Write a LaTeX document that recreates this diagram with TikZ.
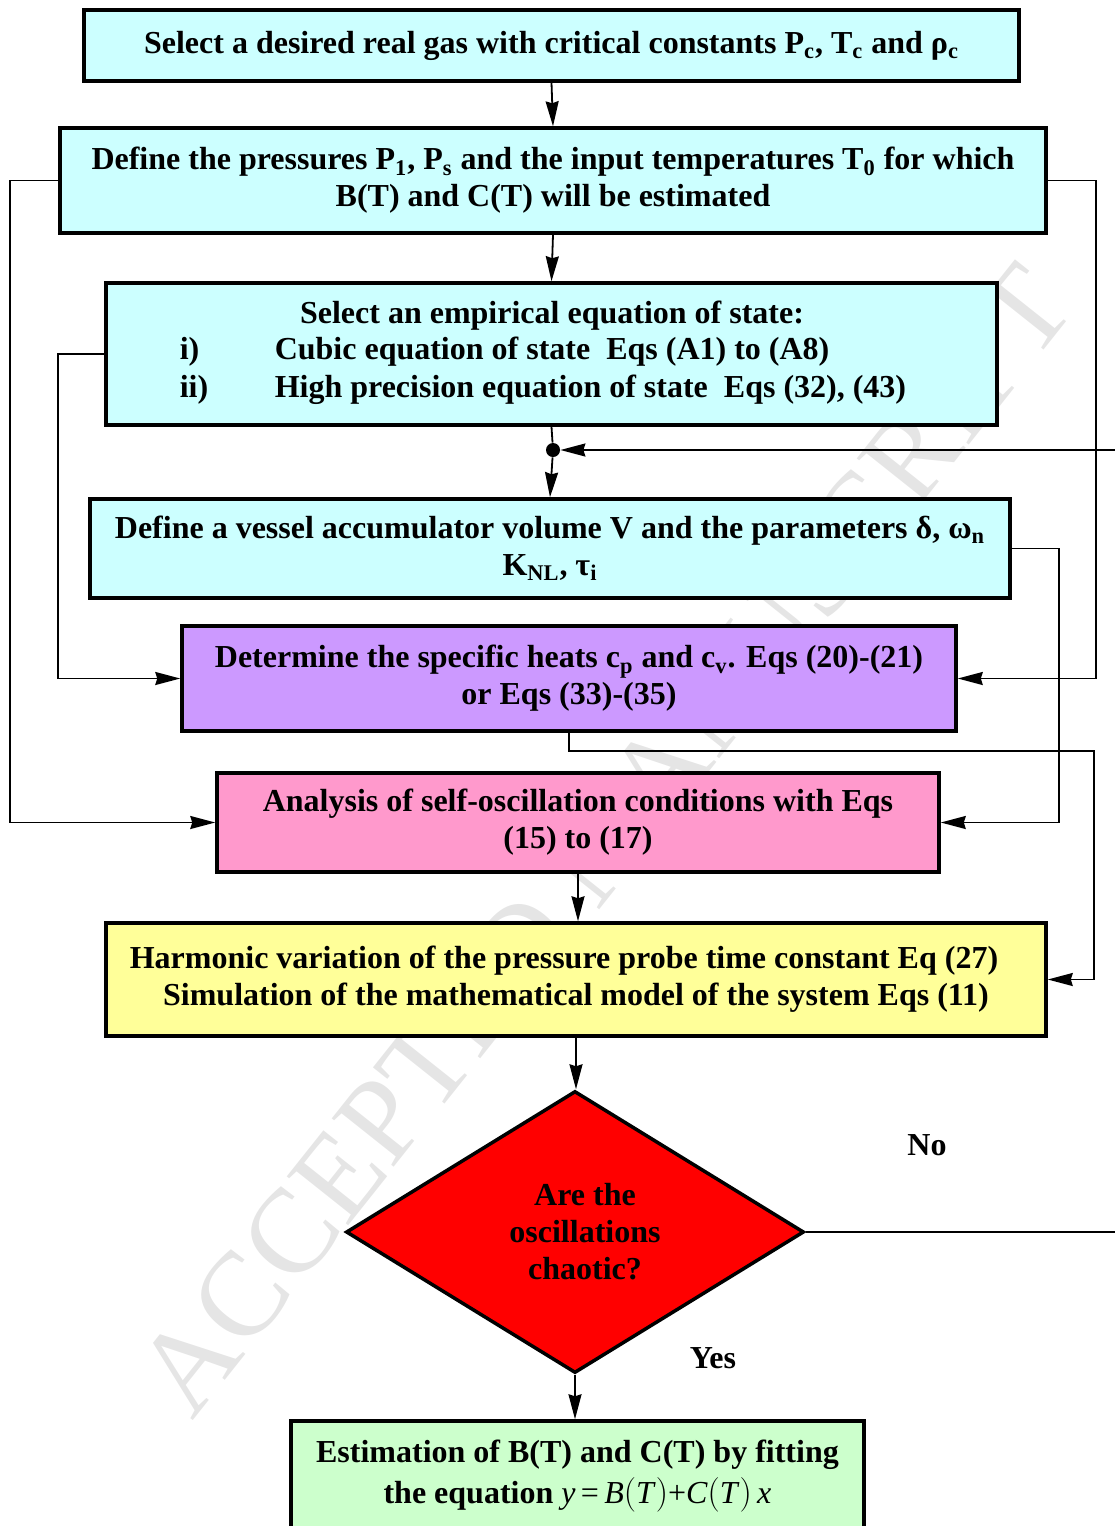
\documentclass[tikz,border=0pt]{standalone}
\usepackage{fontspec}
\setmainfont{Liberation Serif}
\usetikzlibrary{arrows.meta,shapes.geometric}
\definecolor{gascyan}{HTML}{CCFFFF}
\definecolor{heatpurple}{HTML}{CC99FF}
\definecolor{oscpink}{HTML}{FF99CC}
\definecolor{modelyellow}{HTML}{FFFF99}
\definecolor{fitgreen}{HTML}{CCFFCC}
\newcommand\subs[1]{\textsubscript{#1}}
\newcommand\fitp[1]{$\bigl($\textit{#1}$\bigr)$}
\tikzset{
  box/.style={draw, line width=1.75pt, align=center, inner sep=0pt,
    font=\bfseries\fontsize{16}{18.5}\selectfont},
  link/.style={line width=0.9pt},
  arr/.style={link, -{Stealth[length=12.5pt,width=6.5pt,inset=1pt]}},
}

\begin{document}
\begin{tikzpicture}[x=0.5pt,y=-0.5pt]
    \useasboundingbox (0,0) rectangle (1114,1526);
    % watermark
    \node[rotate=51.5, text=black!10, font=\fontsize{60}{60}\selectfont] at (605,840) {ACCEPTED MANUSCRIPT};

    \node[box, fill=gascyan, minimum width=467.5pt, minimum height=35.5pt] (gas) at (551.5,45.5)
        {Select a desired real gas with critical constants P\subs{c}, T\subs{c} and ρ\subs{c}};
    \node[box, fill=gascyan, minimum width=493pt, minimum height=52.5pt] (press) at (553,180.5)
        {Define the pressures P\subs{1}, P\subs{s} and the input temperatures T\subs{0} for which\\
         B(T) and C(T) will be estimated};
    \node[box, fill=gascyan, minimum width=445.5pt, minimum height=71pt] (eos) at (551.5,354) {};
    \node[box, draw=none] at (552,316) {Select an empirical equation of state:};
    \node[box, draw=none, anchor=west] at (178,352) {i)};
    \node[box, draw=none, anchor=west] at (273,352) {Cubic equation of state\ \ Eqs (A1) to (A8)};
    \node[box, draw=none, anchor=west] at (178,390) {ii)};
    \node[box, draw=none, anchor=west] at (273,390) {High precision equation of state\ \ Eqs (32), (43)};
    \node[circle, fill, inner sep=0pt, minimum size=7pt] (dot) at (553,450) {};
    \node[box, fill=gascyan, minimum width=460pt, minimum height=49.5pt] (vessel) at (550,548.5)
        {Define a vessel accumulator volume V and the parameters δ, ω\subs{n}\\
         K\subs{NL}, τ\subs{i}};
    \node[box, fill=heatpurple, minimum width=387pt, minimum height=52.5pt] (heat) at (569,678.5)
        {Determine the specific heats c\subs{p} and c\subs{v}. Eqs (20)-(21)\\
         or Eqs (33)-(35)};
    \node[box, fill=oscpink, minimum width=361pt, minimum height=49.5pt] (osc) at (578,822.5)
        {Analysis of self-oscillation conditions with Eqs\\
         (15) to (17)};
    \node[box, fill=modelyellow, minimum width=470pt, minimum height=56.5pt] (model) at (576,979.5)
        {Harmonic variation of the pressure probe time constant Eq (27)\hspace*{12pt}\\
         Simulation of the mathematical model of the system Eqs (11)};
    \node[box, diamond, fill=red, minimum width=229pt, minimum height=141pt] (chaos) at (575,1232)
        {\hspace*{10pt}Are the\\ \hspace*{10pt}oscillations\\ \hspace*{10pt}chaotic?};
    \node[box, fill=fitgreen, minimum width=286.5pt, minimum height=55pt] (fit) at (577.5,1476)
        {Estimation of B(T) and C(T) by fitting\\[2pt]
         the equation {\mdseries\textit{y}\,=\,\textit{B}\fitp{T}+\textit{C}\fitp{T}\,\textit{x}}};
    \node[box, draw=none] (no) at (927,1145) {No};
    \node[box, draw=none] (yes) at (713,1358) {Yes};

    % main flow
    \draw[arr] (gas.south) -- (press.north);
    \draw[arr] (press.south) -- (eos.north);
    \draw[link] (eos.south) -- (dot);
    \draw[arr] (dot) -- (vessel.north);
    \draw[arr] (osc.south) -- (osc.south |- model.north);
    \draw[arr] (model.south) -- (model.south |- chaos.north);
    \draw[arr] (chaos.south) -- (chaos.south |- fit.north);
    \draw[arr] (chaos.east) -- (1125,1232) |- (dot);
    % side links
    \draw[arr] (press.west) -- ++(-24pt,0) |- (osc.west);
    \draw[arr] (eos.west) -- ++(-23pt,0) |- (heat.west);
    \draw[arr] (press.east) -- ++(24pt,0) |- (heat.east);
    \draw[arr] (vessel.east) -- ++(23.5pt,0) |- (osc.east);
    \draw[arr] (heat.south) |- (1094,751) |- (model.east);
\end{tikzpicture}
\end{document}
